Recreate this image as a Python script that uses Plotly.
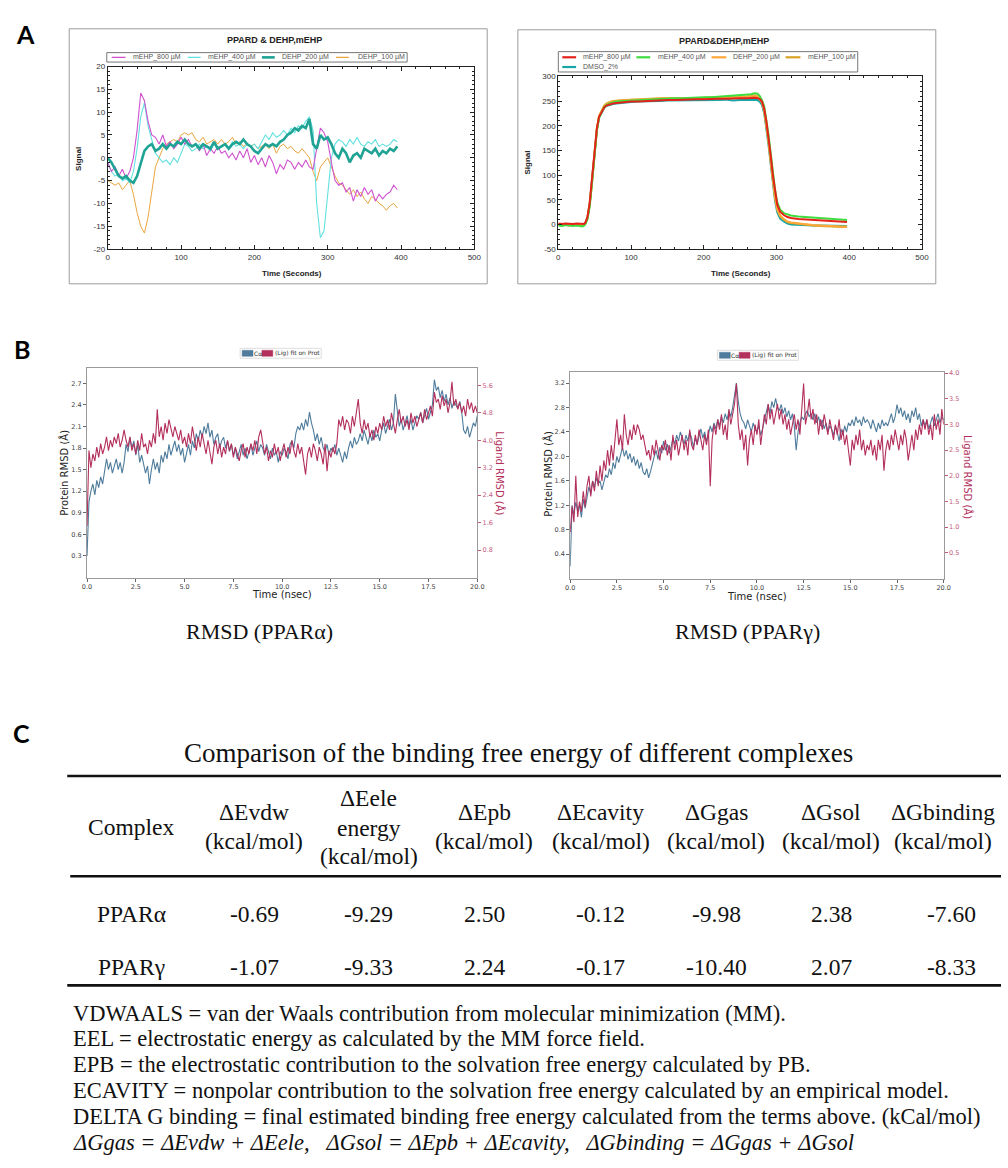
import plotly.graph_objects as go

W, H = 1008, 1168
def px(v): return v / W
def py(v): return 1 - v / H

# ---------------- Panel A (left): PPARD & DEHP,mEHP ----------------
a1_time = [0,5,10,15,20,25,30,35,40,45,50,55,60,65,70,75,80,85,90,95,
           100,105,110,115,120,125,130,135,140,145,150,155,160,165,170,175,180,185,190,195,
           200,205,210,215,220,225,230,235,240,245,250,255,260,265,270,275,280,285,290,295,
           300,305,310,315,320,325,330,335,340,345,350,355,360,365,370,375,380,385,390,395]
a1_mehp800 = [-1,-3,-2,-4,-2.5,-4.5,-3,0,6,14.2, 12.5,8,5,4.5,3,5,2.5,3.5,2,3,
              4.5,3,4,2.5,3,1.5,3,0.5,2,1, 2.5,1,1.5,0,1,-0.5,1.5,0,2,-1,
              0.5,-1.5,0,-2,0.5,-1,-3.5,-1.5,-2.5,-0.5, -1,-2.5,-1,-2,-0.5,-2,-2.5,2,6.5,5.5,
              3.5,-1,-5,-6,-5.5,-7.5,-6.5,-9.5,-7,-8.5, -6.5,-8,-7,-9.5,-8,-9,-8,-7.5,-6,-7]
a1_mehp400 = [-1,-3,-4,-3.5,-5,-4.5,-5.5,-3,2,9, 12,7,4,1,0,-1,-0.5,-1.5,0,-1,
              1,3,2.5,1.5,2,3,2,2.5,1.5,3, 2,2.5,3,2,3.5,2.5,3,2,3,2.5,
              3,2,3.5,5,4,5.5,4.5,5,6,5, 6.5,5.5,7,6.5,8,9,6,-10,-17.5,-16,
              -8,0,3,4,3.5,2.5,4,3,4.5,3, 2.5,3.5,3,4,2.5,3,2.5,3,4,3.5]
a1_dehp200 = [0,-1,-2.5,-4,-4.5,-4,-5,-5.5,-4,-1, 1.5,2.5,3,1.5,2,3,2,3,2.5,3.5,
              3,4,3,2.5,3,2,3,2.5,2,3.5, 2,2.5,3,2,3,3.5,3,4,3,2.5,
              1.5,1,2,3,2.5,3,2.5,3.5,4,5, 5.5,6.5,6,7,6.5,8.5,3,2,5,4,
              4.5,3,1,0,2,1,-1,0.5,1,0, 2,1.5,1,2,0.5,1.5,1,2,1.5,2.5]
a1_dehp100 = [-5,-5.5,-6,-5.5,-7,-6,-5,-8,-12,-15, -16.5,-13,-7,-2,0,2,3,3.5,4,3.5,
              5,5.5,5,5.5,4,3.5,4.5,3,3.5,4, 3,4,3,3.5,4.5,3,3.5,2.5,3,2.5,
              3,2,2.5,3,2,3,1,2.5,3,2, 2.5,1.5,1,2,1,0,-3,-5,-2,-1,
              0,-2,-4,-5.5,-6,-7,-8,-7,-8.5,-7.5, -9,-10,-8.5,-9,-10,-10.5,-11.5,-10.5,-10,-11]
a1_names = ["mEHP_800 µM", "mEHP_400 µM", "DEHP_200 µM", "DEHP_100 µM"]
a1_yticks = [-20, -15, -10, -5, 0, 5, 10, 15, 20]
a1_yticktext = ["-20", "-15", "-10", "-5", "0", "5", "10", "15", "20"]

# ---------------- Panel A (right): PPARD&DEHP,mEHP ----------------
a2_time = [0,5,10,15,20,25,30,33,35,37,40,43,46,50,53,56,60,63,66,70,75,80,90,100,
           110,120,130,140,150,160,170,180,190,200,210,220,230,240,250,260,
           265,270,274,277,280,283,286,289,292,295,298,301,
           305,310,315,320,330,340,350,360,370,380,390,397]
a2_mehp800 = [2,1,2,1,1,2,1,1,1,3,15,42,85,155,195,218,230,237,241,243,245,246,248,249,
              249,250,251,251,252,252,253,253,254,254,255,255,255,256,256,256,
              257,257,256,254,249,235,210,178,140,100,65,40,
              26,19,15,13,11,10,9,8,7,6,5,5]
a2_mehp400 = [-2,-3,-1,-2,-3,-2,-4,-4,-3,0,10,35,78,148,190,216,230,238,242,245,247,249,250,251,
              252,253,254,254,255,256,256,257,257,258,258,259,260,261,262,263,
              264,266,265,260,252,240,215,182,145,105,70,45,
              30,23,20,18,16,15,14,13,12,11,10,9]
a2_dehp200 = [0,1,0,-1,0,1,0,0,1,2,14,40,84,152,194,220,233,240,244,247,249,250,252,253,
              253,254,255,255,256,256,256,257,257,257,257,258,258,258,259,260,
              261,262,260,255,248,232,205,170,130,90,55,32,
              18,11,6,4,2,0,-1,-2,-3,-3,-4,-4]
a2_mehp100 = [-1,0,-1,-2,-1,0,-1,-2,-1,1,12,38,80,150,192,219,233,241,245,248,250,251,252,253,
              254,254,255,256,256,256,257,257,257,257,258,258,258,259,259,259,
              260,260,259,255,247,231,204,168,128,88,54,30,
              17,10,5,3,1,-1,-2,-3,-4,-4,-5,-5]
a2_dmso = [1,0,1,0,-1,0,1,0,0,2,13,40,82,150,192,216,229,236,240,242,244,245,247,248,
           249,249,250,250,251,251,251,252,252,252,252,252,253,251,252,252,
           253,253,252,249,242,226,198,162,122,82,48,25,
           12,6,2,0,-1,-1,-2,-2,-2,-3,-3,-3]
a2_names = ["mEHP_800 µM", "mEHP_400 µM", "DEHP_200 µM", "mEHP_100 µM", "DMSO_2%"]
a2_yticks = [-50, 0, 50, 100, 150, 200, 250, 300]
a2_yticktext = ["-50", "0", "50", "100", "150", "200", "250", "300"]

# ---------------- Panel B: RMSD time series ----------------
b_time = [0.0,0.1,0.2,0.3,0.4,0.5,0.6,0.7,0.8,0.9,
          1.0,1.1,1.2,1.3,1.4,1.5,1.6,1.7,1.8,1.9,
          2.0,2.1,2.2,2.3,2.4,2.5,2.6,2.7,2.8,2.9,
          3.0,3.1,3.2,3.3,3.4,3.5,3.6,3.7,3.8,3.9,
          4.0,4.1,4.2,4.3,4.4,4.5,4.6,4.7,4.8,4.9,
          5.0,5.1,5.2,5.3,5.4,5.5,5.6,5.7,5.8,5.9,
          6.0,6.1,6.2,6.3,6.4,6.5,6.6,6.7,6.8,6.9,
          7.0,7.1,7.2,7.3,7.4,7.5,7.6,7.7,7.8,7.9,
          8.0,8.1,8.2,8.3,8.4,8.5,8.6,8.7,8.8,8.9,
          9.0,9.1,9.2,9.3,9.4,9.5,9.6,9.7,9.8,9.9,
          10.0,10.1,10.2,10.3,10.4,10.5,10.6,10.7,10.8,10.9,
          11.0,11.1,11.2,11.3,11.4,11.5,11.6,11.7,11.8,11.9,
          12.0,12.1,12.2,12.3,12.4,12.5,12.6,12.7,12.8,12.9,
          13.0,13.1,13.2,13.3,13.4,13.5,13.6,13.7,13.8,13.9,
          14.0,14.1,14.2,14.3,14.4,14.5,14.6,14.7,14.8,14.9,
          15.0,15.1,15.2,15.3,15.4,15.5,15.6,15.7,15.8,15.9,
          16.0,16.1,16.2,16.3,16.4,16.5,16.6,16.7,16.8,16.9,
          17.0,17.1,17.2,17.3,17.4,17.5,17.6,17.7,17.8,17.9,
          18.0,18.1,18.2,18.3,18.4,18.5,18.6,18.7,18.8,18.9,
          19.0,19.1,19.2,19.3,19.4,19.5,19.6,19.7,19.8,19.9,
          20.0]

# PPARα: protein Cα RMSD (left axis) and ligand RMSD (right axis)
b1_prot = [0.3,1.05,1.2,1.3,1.15,1.35,1.25,1.4,1.3,1.5,
           1.65,1.5,1.6,1.45,1.55,1.65,1.5,1.6,1.45,1.6,
           1.85,1.75,1.95,1.8,1.9,1.7,1.85,1.6,1.7,1.55,
           1.45,1.55,1.3,1.5,1.65,1.5,1.6,1.45,1.7,1.6,
           1.75,1.65,1.85,1.7,1.8,1.9,1.75,1.85,1.7,1.8,
           1.6,1.75,1.85,1.7,1.9,1.8,2.0,1.9,2.05,1.95,
           2.1,2.0,2.15,1.95,2.05,1.85,1.95,2.0,1.8,1.9,
           1.95,1.8,1.9,1.75,1.85,1.7,1.8,1.65,1.75,1.85,
           1.7,1.8,1.65,1.75,1.85,1.7,1.8,1.9,1.75,1.85,
           1.8,1.7,1.85,1.75,1.65,1.8,1.7,1.75,1.6,1.75,
           1.7,1.8,1.75,1.65,1.85,1.9,1.8,2.0,2.1,2.05,
           2.15,2.05,2.2,2.1,2.3,2.15,2.05,1.9,2.0,1.85,
           1.95,1.8,1.75,1.85,1.7,1.8,1.75,1.85,1.7,1.8,
           1.7,1.6,1.75,1.65,1.8,1.9,1.8,1.95,1.85,1.9,
           2.0,1.9,2.05,1.95,1.85,2.0,1.9,2.05,1.95,2.0,
           1.9,2.05,2.15,2.0,2.1,2.2,2.05,2.15,2.55,2.3,
           2.1,2.2,2.05,2.15,2.25,2.1,2.2,2.05,2.15,2.25,
           2.2,2.3,2.15,2.25,2.35,2.2,2.3,2.4,2.75,2.6,
           2.65,2.5,2.6,2.45,2.55,2.4,2.5,2.35,2.45,2.4,
           2.35,2.45,2.3,2.05,2.0,2.1,1.95,2.05,2.15,2.1,
           2.25]
b1_lig = [1.5,3.7,3.2,3.6,3.4,3.8,3.5,3.9,3.6,3.8,
          4.1,3.7,4.0,3.8,4.1,3.9,4.2,3.8,4.0,4.3,
          4.0,3.8,4.1,3.7,3.9,3.6,4.0,3.7,4.2,3.8,
          3.9,3.6,4.0,3.8,4.2,3.9,4.9,4.1,4.4,4.0,
          4.5,4.2,4.6,4.3,4.1,4.4,4.2,4.0,4.3,3.9,
          4.1,3.8,4.2,3.9,4.4,4.0,3.7,4.1,3.8,4.2,
          3.9,3.6,4.0,3.7,3.3,3.8,4.0,3.6,3.9,3.5,
          3.8,3.6,4.0,3.7,3.9,3.5,3.8,3.6,3.4,3.7,
          3.9,3.5,3.8,3.6,3.9,3.7,4.0,3.6,4.1,4.3,
          3.9,3.6,3.8,3.4,3.7,3.5,3.9,3.6,3.8,3.4,
          3.7,3.9,3.5,3.8,3.6,4.0,3.7,3.5,3.9,3.6,
          3.8,3.4,3.0,3.6,3.8,3.5,3.9,3.7,3.4,3.8,
          3.6,3.3,3.9,3.1,3.7,3.5,3.8,3.6,3.9,4.6,
          4.4,4.7,4.3,4.6,4.5,4.2,4.7,4.4,4.8,5.2,
          4.5,4.2,4.6,4.3,4.5,4.1,4.3,4.0,4.4,4.2,
          4.5,4.3,4.7,4.4,4.6,4.3,4.8,4.5,4.2,4.6,
          4.9,4.5,4.7,4.4,4.6,4.3,4.8,4.5,4.7,4.4,
          4.6,4.8,4.5,4.9,4.6,4.8,5.0,4.7,5.4,5.1,
          5.2,4.9,5.3,5.0,5.2,4.8,5.1,5.7,5.0,5.2,
          4.9,5.1,4.8,5.0,4.7,5.2,4.9,5.1,4.8,5.0,
          4.8]

# PPARγ
b2_prot = [0.2,1.2,1.05,1.25,1.1,1.2,1.0,1.3,1.15,1.35,
           1.5,1.4,1.6,1.5,1.65,1.55,1.6,1.45,1.6,1.7,
           1.65,1.8,1.7,1.9,1.8,2.0,1.9,2.05,2.15,2.0,
           2.1,1.95,2.05,1.9,2.0,1.85,1.95,1.8,1.9,1.75,
           1.7,1.8,1.65,1.75,1.9,2.0,2.1,1.95,2.15,2.05,
           2.25,2.1,2.2,2.05,2.15,2.3,2.2,2.35,2.25,2.4,
           2.3,2.2,2.35,2.25,2.4,2.3,2.15,2.3,2.2,2.35,
           2.45,2.3,2.4,2.25,2.35,2.5,2.4,2.55,2.45,2.6,
           2.5,2.65,2.55,2.7,2.6,2.75,2.65,2.8,3.0,3.2,
           2.9,2.7,2.6,2.55,2.45,2.6,2.5,2.4,2.55,2.45,
           2.4,2.5,2.35,2.45,2.6,2.75,2.85,2.7,2.9,2.8,
           2.95,2.8,2.75,2.85,2.7,2.8,2.65,2.75,2.6,2.7,
           2.5,2.1,2.4,2.55,2.65,2.6,2.7,2.75,2.65,2.7,
           2.6,2.7,2.55,2.65,2.5,2.6,2.45,2.55,2.4,2.5,
           2.45,2.35,2.5,2.4,2.25,2.45,2.35,2.5,2.4,2.55,
           2.5,2.6,2.5,2.65,2.55,2.6,2.5,2.65,2.55,2.6,
           2.55,2.45,2.6,2.5,2.4,2.55,2.45,2.6,2.5,2.55,
           2.5,2.6,2.7,2.55,2.65,2.85,2.7,2.8,2.65,2.75,
           2.6,2.7,2.55,2.75,2.65,2.8,2.6,2.7,2.5,2.6,
           2.5,2.6,2.45,2.55,2.65,2.5,2.6,2.7,2.55,2.65,
           2.6]
b2_lig = [0.9,1.4,1.1,2.0,1.2,1.5,1.3,1.7,1.4,1.8,
          2.0,1.6,1.9,1.7,2.1,1.8,2.2,1.9,2.3,2.1,
          2.5,2.2,2.6,2.3,2.7,3.1,2.6,2.8,2.5,3.2,
          2.8,2.6,2.9,2.7,3.0,2.8,3.0,2.9,2.7,2.8,
          2.6,2.4,2.5,2.3,2.6,2.4,2.7,2.5,2.3,2.6,
          2.5,2.7,2.4,2.6,2.3,2.8,2.5,2.7,2.4,2.6,
          2.8,2.5,2.7,2.4,2.9,2.6,2.5,2.8,2.6,2.9,
          2.7,2.5,2.8,2.6,2.9,1.8,2.7,3.0,2.8,3.1,
          2.9,3.2,2.8,3.0,2.7,3.3,3.0,3.2,3.4,3.8,
          3.0,2.7,2.9,2.5,2.8,2.2,2.7,2.9,2.6,3.0,
          2.8,3.1,2.6,2.9,3.2,3.0,3.4,3.1,3.3,3.0,
          3.2,3.4,3.1,3.3,3.0,3.2,2.9,3.1,2.8,3.0,
          3.2,2.9,3.1,2.8,3.3,3.8,3.0,3.2,3.5,3.1,
          3.3,3.0,3.2,2.8,3.1,2.9,3.2,3.0,2.8,3.1,
          2.9,2.7,3.0,2.8,3.1,2.7,2.9,2.6,2.8,2.5,
          2.2,2.7,2.5,2.8,2.6,2.9,2.5,2.7,2.4,2.6,
          2.5,2.7,2.4,2.6,2.3,2.7,2.5,2.8,2.1,2.5,
          2.7,2.5,2.8,2.6,2.9,2.7,2.5,2.8,2.6,2.9,
          2.7,2.3,2.6,2.8,2.5,2.9,2.7,3.0,2.8,3.1,
          2.9,3.1,2.8,3.0,2.7,3.2,2.9,3.1,2.8,3.3,
          3.0]

b_xticks = [0, 2.5, 5, 7.5, 10, 12.5, 15, 17.5, 20]
b1_lticks = [0.3, 0.6, 0.9, 1.2, 1.5, 1.8, 2.1, 2.4, 2.7]
b1_rticks = [0.8, 1.6, 2.4, 3.2, 4.0, 4.8, 5.6]
b2_lticks = [0.4, 0.8, 1.2, 1.6, 2.0, 2.4, 2.8, 3.2]
b2_rticks = [0.5, 1.0, 1.5, 2.0, 2.5, 3.0, 3.5, 4.0]

# ---------------- Panel C: table ----------------
c_title = "Comparison of the binding free energy of different complexes"
c_complexes = ["PPARα", "PPARγ"]
c_headers = [["Complex"], ["ΔEvdw", "(kcal/mol)"], ["ΔEele", "energy", "(kcal/mol)"],
             ["ΔEpb", "(kcal/mol)"], ["ΔEcavity", "(kcal/mol)"], ["ΔGgas", "(kcal/mol)"],
             ["ΔGsol", "(kcal/mol)"], ["ΔGbinding", "(kcal/mol)"]]
c_values = [["-0.69", "-9.29", "2.50", "-0.12", "-9.98", "2.38", "-7.60"],
            ["-1.07", "-9.33", "2.24", "-0.17", "-10.40", "2.07", "-8.33"]]
c_notes = [
    "VDWAALS = van der Waals contribution from molecular minimization (MM).",
    "EEL = electrostatic energy as calculated by the MM force field.",
    "EPB = the electrostatic contribution to the solvation free energy calculated by PB.",
    "ECAVITY = nonpolar contribution to the solvation free energy calculated by an empirical model.",
    "DELTA G binding = final estimated binding free energy calculated from the terms above. (kCal/mol)",
    "<i>ΔGgas = ΔEvdw + ΔEele,&nbsp;&nbsp; ΔGsol = ΔEpb + ΔEcavity,&nbsp;&nbsp; ΔGbinding = ΔGgas + ΔGsol</i>",
]

# ======================================================================
SANS = "Liberation Sans"
SERIF = "Liberation Serif"
DJ = "DejaVu Sans"

fig = go.Figure()

a1_series = [(a1_dehp100, "#e8a640", 1.0, a1_names[3]),
             (a1_mehp400, "#63e0e0", 1.1, a1_names[1]),
             (a1_mehp800, "#cf52cf", 1.1, a1_names[0]),
             (a1_dehp200, "#1fa394", 2.6, a1_names[2])]
for vals, col, w, nm in a1_series:
    fig.add_trace(go.Scatter(x=a1_time, y=vals, mode="lines", name=nm,
                             line=dict(color=col, width=w), xaxis="x", yaxis="y"))

a2_series = [(a2_dmso, "#1ba6a6", 2.0, a2_names[4]),
             (a2_mehp100, "#d9a326", 2.0, a2_names[3]),
             (a2_dehp200, "#ffa83a", 2.0, a2_names[2]),
             (a2_mehp400, "#3fdc3f", 2.0, a2_names[1]),
             (a2_mehp800, "#e3231b", 2.0, a2_names[0])]
for vals, col, w, nm in a2_series:
    fig.add_trace(go.Scatter(x=a2_time, y=vals, mode="lines", name=nm,
                             line=dict(color=col, width=w), xaxis="x2", yaxis="y2"))

BLUE = "#4f7c9c"
RED = "#b3305c"
fig.add_trace(go.Scatter(x=b_time, y=b1_prot, mode="lines", name="Cα",
                         line=dict(color=BLUE, width=1.1), xaxis="x3", yaxis="y3"))
fig.add_trace(go.Scatter(x=b_time, y=b1_lig, mode="lines", name="Lig fit on Prot",
                         line=dict(color=RED, width=1.1), xaxis="x3", yaxis="y4"))
fig.add_trace(go.Scatter(x=b_time, y=b2_prot, mode="lines", name="Cα",
                         line=dict(color=BLUE, width=1.1), xaxis="x4", yaxis="y5"))
fig.add_trace(go.Scatter(x=b_time, y=b2_lig, mode="lines", name="Lig fit on Prot",
                         line=dict(color=RED, width=1.1), xaxis="x4", yaxis="y6"))

# ---- axes
ax_a = dict(showgrid=False, zeroline=False, showline=True, linecolor="#222", linewidth=1,
            mirror="allticks", ticks="inside", ticklen=4, tickcolor="#222",
            tickfont=dict(family=SANS, size=8, color="#333"))
minor_a = lambda d: dict(dtick=d, ticks="inside", ticklen=2, tickcolor="#222")

ax_b = dict(showgrid=False, zeroline=False, showline=True, linecolor="#9a9a9a", linewidth=1,
            mirror=True, ticks="outside", ticklen=3, tickcolor="#666",
            tickfont=dict(family=DJ, size=6.5, color="#444"), tickformat=".1f")
ax_br = dict(showgrid=False, zeroline=False, showline=False, side="right",
             ticks="outside", ticklen=3, tickcolor="#c25a80",
             tickfont=dict(family=DJ, size=6.5, color="#c25a80"), tickformat=".1f")

fig.update_layout(
    width=W, height=H, margin=dict(l=0, r=0, t=0, b=0), autosize=False,
    paper_bgcolor="white", plot_bgcolor="white", showlegend=False,
    xaxis=dict(domain=[px(104), px(475)], range=[0, 500], dtick=100, tick0=0,
               minor=minor_a(20), anchor="y", **ax_a),
    yaxis=dict(domain=[py(247), py(63)], range=[-20, 20], tickvals=a1_yticks,
               ticktext=a1_yticktext, minor=minor_a(1), anchor="x", **ax_a),
    xaxis2=dict(domain=[px(560), px(928)], range=[0, 500], dtick=100, tick0=0,
                minor=minor_a(20), anchor="y2", **ax_a),
    yaxis2=dict(domain=[py(247), py(73)], range=[-50, 300], tickvals=a2_yticks,
                ticktext=a2_yticktext, minor=minor_a(10), anchor="x2", **ax_a),
    xaxis3=dict(domain=[px(83), px(478)], range=[0, 20], tickvals=b_xticks, anchor="y3", **ax_b),
    yaxis3=dict(domain=[py(578), py(367)], range=[0, 2.91], tickvals=b1_lticks, anchor="x3", **ax_b),
    yaxis4=dict(overlaying="y3", anchor="x3", range=[0, 6.1], tickvals=b1_rticks, **ax_br),
    xaxis4=dict(domain=[px(572), px(950)], range=[0, 20], tickvals=b_xticks, anchor="y5", **ax_b),
    yaxis5=dict(domain=[py(579), py(371)], range=[0, 3.38], tickvals=b2_lticks, anchor="x4", **ax_b),
    yaxis6=dict(overlaying="y5", anchor="x4", range=[0, 4.02], tickvals=b2_rticks, **ax_br),
)

shapes = []
anns = []

def ann(text, x, y, size, family=SERIF, color="#111", xa="center", ya="middle", angle=0):
    anns.append(dict(text=text, x=px(x), y=py(y), xref="paper", yref="paper",
                     xanchor=xa, yanchor=ya, showarrow=False, textangle=angle,
                     font=dict(family=family, size=size, color=color)))

def hline(x0, x1, y, color, width):
    shapes.append(dict(type="line", xref="paper", yref="paper", x0=px(x0), x1=px(x1),
                       y0=py(y), y1=py(y), line=dict(color=color, width=width)))

def rect(x0, y0, x1, y1, line_color, fill=None, lw=1):
    shapes.append(dict(type="rect", xref="paper", yref="paper", x0=px(x0), x1=px(x1),
                       y0=py(y1), y1=py(y0), line=dict(color=line_color, width=lw),
                       fillcolor=fill if fill else "rgba(0,0,0,0)"))

# ---- panel letters
ann("<b>A</b>", 21, 30, 25, family="Lato", color="#000")
ann("<b>B</b>", 17, 348, 25, family="Lato", color="#000")
ann("<b>C</b>", 17, 735, 25, family="Lato", color="#000")

# ---- Panel A frames, titles, legends
rect(65, 25, 488, 282, "#9c9c9c")
rect(519, 26, 942, 282, "#9c9c9c")
ann("<b>PPARD & DEHP,mEHP</b>", 273, 36, 9, family=SANS, color="#222")
ann("<b>PPARD&DEHP,mEHP</b>", 728, 37, 9, family=SANS, color="#222")
ann("<b>Time (Seconds)</b>", 290, 272, 8, family=SANS, color="#222")
ann("<b>Time (Seconds)</b>", 745, 272, 8, family=SANS, color="#222")
ann("<b>Signal</b>", 75, 156, 8, family=SANS, color="#222", angle=-90)
ann("<b>Signal</b>", 529, 160, 8, family=SANS, color="#222", angle=-90)

LEGF = 7
rect(103, 49, 407, 58.5, "#777")
a1_leg = [(108, 122, 128, "#cf52cf", 1.3, a1_names[0]),
          (185, 198, 203, "#63e0e0", 1.3, a1_names[1]),
          (260, 273, 278, "#1fa394", 2.6, a1_names[2]),
          (335, 348, 355, "#e8a640", 1.3, a1_names[3])]
for x0, x1, tx, col, w, nm in a1_leg:
    hline(x0, x1, 53.8, col, w)
    ann(nm, tx, 53.8, LEGF, family=SANS, color="#555", xa="left")

rect(560, 48, 863, 68.5, "#777")
a2_leg = [(564, 578, 583, 53.7, "#e3231b", a2_names[0]),
          (639, 653, 659, 53.7, "#3fdc3f", a2_names[1]),
          (715, 730, 735, 53.7, "#ffa83a", a2_names[2]),
          (790, 805, 811, 53.7, "#d9a326", a2_names[3]),
          (564, 578, 583, 63.5, "#1ba6a6", a2_names[4])]
for x0, x1, tx, yy, col, nm in a2_leg:
    hline(x0, x1, yy, col, 2.2)
    ann(nm, tx, yy, LEGF, family=SANS, color="#555", xa="left")

# ---- Panel B legends, axis titles, captions
for (bx, by) in [(240, 352), (723, 354)]:
    rect(bx - 2, by - 5, bx + 80, by + 5, "#dddddd")
    rect(bx, by - 3, bx + 11, by + 3, BLUE, fill=BLUE, lw=0.5)
    ann("Cα", bx + 10, by, 6, family=DJ, color="#333", xa="left")
    rect(bx + 20, by - 3, bx + 31, by + 3, RED, fill=RED, lw=0.5)
    ann("(Lig) fit on Prot", bx + 31, by, 6, family=DJ, color="#333", xa="left")

ann("Protein RMSD (Å)", 60, 472, 10, family=DJ, color="#222", angle=-90)
ann("Ligand RMSD (Å)", 501, 473, 10, family=DJ, color=RED, angle=90)
ann("Time (nsec)", 280, 595, 10, family=DJ, color="#222")
ann("Protein RMSD (Å)", 550, 473, 10, family=DJ, color="#222", angle=-90)
ann("Ligand RMSD (Å)", 974, 477, 10, family=DJ, color=RED, angle=90)
ann("Time (nsec)", 761, 597, 10, family=DJ, color="#222")

ann("RMSD (PPARα)", 258, 632, 22, color="#111")
ann("RMSD (PPARγ)", 751, 632, 22, color="#111")

# ---- Panel C table
TF = 23.5
ann(c_title, 520, 755, 27, color="#111")
hline(63, 1008, 778, "#111", 2.6)
hline(66, 1008, 879, "#111", 2.6)
hline(63, 1008, 989, "#111", 2.6)

col_x = [128, 252, 368, 485, 603, 720, 836, 949]
val_x = [252, 368, 485, 603, 720, 836, 958]
for cx, lines in zip(col_x, c_headers):
    if len(lines) == 1:
        ys = [829]
    elif len(lines) == 2:
        ys = [814, 844]
    else:
        ys = [800, 830, 859]
    for txt, yy in zip(lines, ys):
        ann(txt, cx, yy, TF, color="#111")

row_y = [917, 970]
for name, vals, yy in zip(c_complexes, c_values, row_y):
    ann(name, 128, yy, TF, color="#111")
    for vx, v in zip(val_x, vals):
        ann(v, vx, yy, TF, color="#111")

note_y = [1017, 1043, 1069, 1095, 1121, 1147]
for txt, yy in zip(c_notes, note_y):
    ann(txt, 67, yy, 22.5, color="#111", xa="left")

fig.update_layout(shapes=shapes, annotations=anns)
fig.write_html("out.html", config={"displayModeBar": False},
               post_script="document.body.style.margin='0px';document.body.style.overflow='hidden';")
